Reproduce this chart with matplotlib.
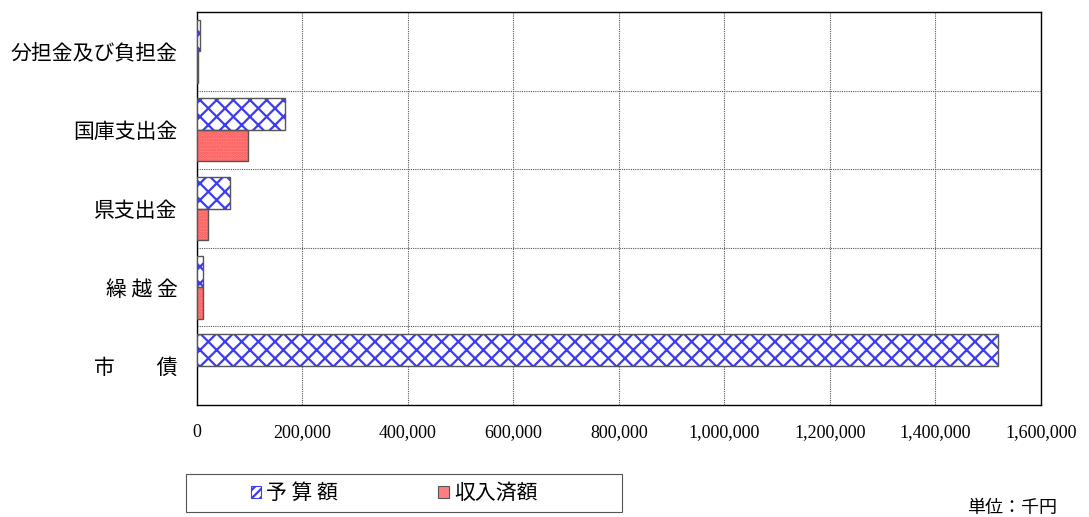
import numpy as np
import matplotlib.pyplot as plt
from matplotlib.patches import Patch, Rectangle

plt.rcParams['font.family'] = ['Noto Sans CJK JP', 'DejaVu Sans']
plt.rcParams['hatch.linewidth'] = 1.6

categories = ['分担金及び負担金', '国庫支出金', '県支出金', '繰 越 金', '市　　債']
budget = [5000, 167000, 63000, 12000, 1518000]
received = [1500, 96000, 20000, 12000, 0]
xticks = [0, 200000, 400000, 600000, 800000, 1000000, 1200000, 1400000, 1600000]
series_names = ['予 算 額', '収入済額']

fig = plt.figure(figsize=(10.89, 5.17), dpi=100)
ax = fig.add_axes([0.1809, 0.2166, 0.775, 0.7602])

y = np.arange(len(categories))
h = 0.4
blue = '#3c3cf0'
red_face = '#ff7f7f'
red_hatch = '#ff5a5a'
edge = '#555555'

# budget: white with blue woven hatch, grey outline drawn separately
ax.barh(y - h / 2, budget, height=h, color='white', edgecolor=blue,
        hatch='xx', linewidth=0, zorder=3)
ax.barh(y - h / 2, budget, height=h, fill=False, edgecolor=edge,
        linewidth=[1.0 if v > 0 else 0 for v in budget], zorder=4)
# received: red with fine dots
ax.barh(y + h / 2, received, height=h, color=red_face, edgecolor=red_hatch,
        hatch='.....', linewidth=0, zorder=3)
ax.barh(y + h / 2, received, height=h, fill=False, edgecolor=edge,
        linewidth=[1.0 if v > 0 else 0 for v in received], zorder=4)

ax.set_xlim(0, 1600000)
ax.set_ylim(len(categories) - 0.5, -0.5)
ax.set_xticks(xticks)
ax.set_xticklabels([f'{v:,}' for v in xticks], family='Liberation Serif',
                   fontsize=13)
ax.set_yticks(y)
ax.set_yticklabels(categories, fontsize=15)
ax.set_yticks(np.arange(0.5, len(categories) - 0.5, 1), minor=True)
ax.tick_params(axis='x', length=0, pad=14)
ax.tick_params(axis='y', which='both', length=0, pad=14)

ax.grid(axis='x', which='major', color='#555555', linestyle=(0, (1, 1)),
        linewidth=0.8, zorder=1)
ax.grid(axis='y', which='minor', color='#555555', linestyle=(0, (1, 1)),
        linewidth=0.8, zorder=1)
for s in ax.spines.values():
    s.set_color('black')
    s.set_linewidth(1.0)

# legend box
fig.patches.append(Rectangle((186 / 1089, 1 - 512 / 517), 436 / 1089, 38 / 517,
                             transform=fig.transFigure, facecolor='white',
                             edgecolor='#555555', linewidth=0.8))
handles = [Patch(facecolor='white', edgecolor=blue, hatch='////', linewidth=0.8),
           Patch(facecolor=red_face, edgecolor=edge, linewidth=0.8)]
leg = fig.legend(handles, series_names, loc='center',
                 bbox_to_anchor=(394 / 1089, 1 - 493 / 517),
                 ncol=2, fontsize=15, frameon=False,
                 handlelength=0.5, handleheight=0.5, handletextpad=0.25,
                 columnspacing=4.8, borderpad=0, borderaxespad=0)

fig.text(1057 / 1089, 1 - 508 / 517, '単位：千円', fontsize=13,
         ha='right', va='center')

fig.savefig('out.png', dpi=100)
